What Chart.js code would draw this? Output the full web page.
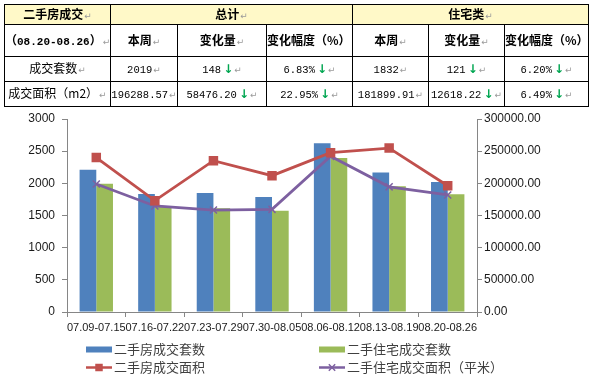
<!DOCTYPE html>
<html><head><meta charset="utf-8">
<script src="https://cdn.jsdelivr.net/npm/chart.js@4/dist/chart.umd.min.js"></script>
<style>
html,body{margin:0;padding:0;background:#fff;}
#wrap{position:relative;width:589px;height:380px;overflow:hidden;background:#fff;}
#c{position:absolute;left:0;top:0;}
table{position:absolute;left:4px;top:4px;border-collapse:collapse;table-layout:fixed;width:584px;font-family:"Noto Sans CJK SC",sans-serif;font-size:12px;color:#000;}
td{border:1px solid #000;padding:0;text-align:center;white-space:nowrap;overflow:hidden;line-height:14px;}
tr.h1 td{background:#FFF9C8;font-weight:bold;height:19px;}
tr.h2 td{font-weight:bold;height:31px;}
tr.r td{height:24px;}
.num{font-family:"Liberation Mono","DejaVu Sans Mono",monospace;font-size:10.5px;}
.pm{color:#9a9a9a;font-size:9px;font-family:"DejaVu Sans",sans-serif;font-weight:normal;margin-left:1px;}
.ar{color:#00A651;font-weight:bold;font-family:"DejaVu Sans",sans-serif;font-size:12px;margin-left:2px;}
</style>
</head>
<body>
<div id="wrap">
<canvas id="c" width="589" height="380"></canvas>
<table id="t">
<colgroup><col style="width:106px"><col style="width:67px"><col style="width:89px"><col style="width:86px"><col style="width:76px"><col style="width:76px"><col style="width:84px"></colgroup>
<tbody id="tb"></tbody>
</table>
</div>
<script>
// ---- table data ----
const tableTitle = '二手房成交';
const tablePeriod = '08.20-08.26';
const groupHeaders = ['总计', '住宅类'];
const colHeaders = ['本周', '变化量', '变化幅度（%）'];
const rowLabels = ['成交套数', '成交面积（m2）'];
const totalThisWeek = ['2019', '196288.57'];
const totalChange = ['148', '58476.20'];
const totalPct = ['6.83%', '22.95%'];
const resThisWeek = ['1832', '181899.91'];
const resChange = ['121', '12618.22'];
const resPct = ['6.20%', '6.49%'];

// ---- chart data ----
const categories = ['07.09-07.15','07.16-07.22','07.23-07.29','07.30-08.05','08.06-08.12','08.13-08.19','08.20-08.26'];
const seriesNames = ['二手房成交套数','二手住宅成交套数','二手房成交面积','二手住宅成交面积（平米）'];
const dealCount = [2210, 1835, 1848, 1787, 2625, 2167, 2019];
const resDealCount = [1995, 1638, 1612, 1572, 2395, 1953, 1832];
const dealArea = [240000, 173100, 235200, 211900, 247600, 254765, 196289];
const resDealArea = [199000, 164800, 158500, 159600, 242000, 194518, 181900];
const leftTicks = {min: 0, max: 3000, step: 500};
const rightTicks = {min: 0, max: 300000, step: 50000};

const pm = '<span class="pm">↵</span>';
const ar = '<span class="ar">↓</span>';
function cell(txt, cls, arrow) {
  return '<td><span class="' + (cls||'') + '">' + txt + '</span>' + (arrow ? ar : '') + pm + '</td>';
}
let html = '<tr class="h1">' + cell(tableTitle) +
  '<td colspan="3">' + groupHeaders[0] + pm + '</td><td colspan="3">' + groupHeaders[1] + pm + '</td></tr>';
html += '<tr class="h2"><td>（<span class="num" style="font-weight:bold;font-size:11px">' + tablePeriod + '</span>）' + pm + '</td>' +
  colHeaders.map(h => cell(h)).join('') + colHeaders.map(h => cell(h)).join('') + '</tr>';
for (let i = 0; i < rowLabels.length; i++) {
  html += '<tr class="r">' + cell(rowLabels[i]) + cell(totalThisWeek[i], 'num') + cell(totalChange[i], 'num', true) +
    cell(totalPct[i], 'num', true) + cell(resThisWeek[i], 'num') + cell(resChange[i], 'num', true) + cell(resPct[i], 'num', true) + '</tr>';
}
document.getElementById('tb').innerHTML = html;

const axisColor = '#868686';
const tickFont = {family: 'Liberation Sans', size: 12};

const legendPlugin = {
  id: 'gridLegend',
  afterDraw(chart) {
    const ctx = chart.ctx;
    const pos = [[86, 349.5], [319, 349.5], [86, 367.5], [319, 367.5]];
    chart.data.datasets.forEach((ds, i) => {
      const [x, y] = pos[i];
      ctx.save();
      if (ds.type === 'bar') {
        ctx.fillStyle = ds.backgroundColor;
        ctx.fillRect(x, y - 3, 26, 6);
      } else {
        ctx.strokeStyle = ds.borderColor;
        ctx.lineWidth = 2.5;
        ctx.beginPath(); ctx.moveTo(x, y); ctx.lineTo(x + 26, y); ctx.stroke();
        ctx.fillStyle = ds.pointBackgroundColor;
        ctx.strokeStyle = ds.pointBorderColor;
        ctx.lineWidth = 1.5;
        Chart.helpers.drawPoint(ctx, {pointStyle: ds.pointStyle, rotation: 0, radius: ds.pointStyle === 'rect' ? 5.3 : 4.5, borderWidth: ds.pointStyle === 'rect' ? 0 : 1.5}, x + 13, y);
      }
      ctx.fillStyle = '#404040';
      ctx.font = '13px "Noto Sans CJK SC"';
      ctx.textBaseline = 'middle';
      ctx.fillText(ds.label, x + 28, y);
      ctx.restore();
    });
  }
};

new Chart(document.getElementById('c'), {
  data: {
    labels: categories,
    datasets: [
      {type: 'bar', label: seriesNames[0], data: dealCount, backgroundColor: '#4F81BD', yAxisID: 'y', order: 2, categoryPercentage: 0.57, barPercentage: 1},
      {type: 'bar', label: seriesNames[1], data: resDealCount, backgroundColor: '#9BBB59', yAxisID: 'y', order: 3, categoryPercentage: 0.57, barPercentage: 1},
      {type: 'line', label: seriesNames[2], data: dealArea, borderColor: '#C0504D', borderWidth: 2.8, pointStyle: 'rect', pointRadius: 6.7, pointBackgroundColor: '#C0504D', pointBorderColor: '#C0504D', pointBorderWidth: 0, yAxisID: 'y1', order: 0, tension: 0},
      {type: 'line', label: seriesNames[3], data: resDealArea, borderColor: '#7D60A0', borderWidth: 2.8, pointStyle: 'crossRot', pointRadius: 5, pointBorderColor: '#7D60A0', pointBackgroundColor: '#7D60A0', pointBorderWidth: 1.5, yAxisID: 'y1', order: 1, tension: 0}
    ]
  },
  options: {
    responsive: false,
    animation: false,
    events: [],
    layout: {padding: {top: 119, bottom: 43, left: 0, right: 0}},
    plugins: {legend: {display: false}, tooltip: {enabled: false}},
    scales: {
      x: {
        offset: true,
        grid: {offset: true, drawOnChartArea: false, tickLength: 5, color: axisColor},
        border: {color: axisColor},
        ticks: {autoSkip: false, maxRotation: 0, minRotation: 0, padding: 4, color: '#1a1a1a', font: {family: 'Liberation Sans', size: 11}},
        afterFit(s) { s.height = 25; }
      },
      y: {
        position: 'left', min: leftTicks.min, max: leftTicks.max,
        grid: {drawOnChartArea: false, tickLength: 5, color: axisColor},
        border: {color: axisColor},
        ticks: {stepSize: leftTicks.step, padding: 7, color: '#1a1a1a', font: tickFont, callback: v => String(v)},
        afterFit(s) { s.width = 67; }
      },
      y1: {
        position: 'right', min: rightTicks.min, max: rightTicks.max,
        grid: {drawOnChartArea: false, tickLength: 5, color: axisColor},
        border: {color: axisColor},
        ticks: {stepSize: rightTicks.step, padding: 2, color: '#1a1a1a', font: tickFont, callback: v => Number(v).toFixed(2)},
        afterFit(s) { s.width = 112; }
      }
    }
  },
  plugins: [legendPlugin]
});
</script>
</body></html>
